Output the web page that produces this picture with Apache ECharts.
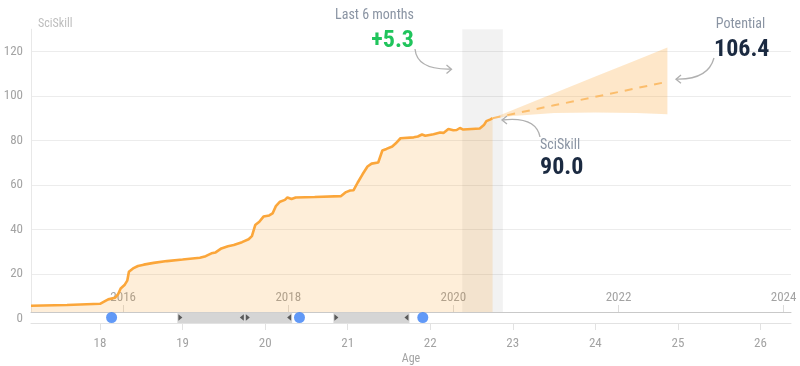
<!DOCTYPE html>
<html><head><meta charset="utf-8">
<script src="https://cdn.jsdelivr.net/npm/echarts@6/dist/echarts.min.js"></script>
<style>html,body{margin:0;padding:0;background:#fff}#c{width:800px;height:366px}</style>
</head><body><div id="c"></div>
<script>
// ---- data ----
const ages = [17.164,17.6,18.0,18.06,18.10,18.18,18.22,18.25,18.30,18.33,18.35,18.40,18.46,18.53,18.65,18.81,19.00,19.21,19.28,19.35,19.40,19.47,19.55,19.62,19.72,19.80,19.84,19.88,19.93,19.98,20.05,20.09,20.13,20.18,20.24,20.27,20.32,20.37,20.60,20.92,20.98,21.03,21.07,21.12,21.18,21.24,21.29,21.37,21.42,21.47,21.54,21.58,21.64,21.80,21.85,21.90,21.94,22.04,22.12,22.16,22.22,22.28,22.32,22.36,22.40,22.60,22.65,22.68,22.73,22.755];
const skill = [5.7,6.1,6.6,7.8,8.6,9.3,11.0,13.5,15.2,17.0,21.0,22.5,23.6,24.2,25.0,25.8,26.5,27.3,28.0,29.3,29.7,31.5,32.5,33.0,34.3,35.6,37.0,42.0,43.5,45.8,46.3,47.2,50.5,52.5,53.3,54.4,53.7,54.4,54.6,55.0,56.8,57.5,57.6,61.0,64.8,68.3,69.6,70.1,75.5,76.2,77.3,78.6,81.0,81.4,81.8,82.7,82.1,82.8,83.6,83.4,85.2,84.6,84.7,85.6,84.9,85.4,86.9,88.7,89.5,90.0];
const forecastAges  = [22.755,23.0,23.5,24.0,24.5,24.873];
const forecastMid   = [90.0,91.9,95.8,99.6,103.5,106.4];
const forecastUpper = [90.0,93.7,101.2,108.7,116.2,121.8];
const forecastLower = [90.0,91.0,92.3,92.6,92.3,91.8];
const recentWindow = [22.388, 22.88];
const periodStarts = [18.937, 19.754, 20.827];
const periodEnds   = [19.754, 20.327, 21.748];
const milestones   = [18.14, 20.416, 21.91];
const ageTicks  = [18,19,20,21,22,23,24,25,26];
const yearTicks = [2016,2018,2020,2022,2024];
const yearOffset = 1997.72;
const ageMin = 17.164, ageMax = 26.37;
const currentValue = '90.0', potentialValue = '106.4', recentGain = '+5.3';

const FONT = '"Liberation Sans Narrow", "Roboto Condensed", Roboto, sans-serif';
const ORANGE = '#fba63a';
const FILL = 'rgba(252,160,40,0.25)';
const LABEL = '#a3a3a3';
const NOTE = '#8a94a3';
const NAVY = '#1b2a41';

const chart = echarts.init(document.getElementById('c'), null, {renderer:'canvas'});
const mainData = ages.map((a,i)=>[a, skill[i]]);
const midData = forecastAges.map((a,i)=>[a, forecastMid[i]]);

const option = {
  animation:false,
  backgroundColor:'#fff',
  grid:[
    {left:31, right:9, top:29.2, bottom:47.5, outerBoundsMode:'none', containLabel:false},
    {left:31, right:9, top:312, height:11, z:10, show:true, backgroundColor:'#fff', borderWidth:0, outerBoundsMode:'none', containLabel:false}
  ],
  xAxis:[
    {type:'value', gridIndex:0, min:ageMin, max:ageMax, show:false},
    {type:'value', gridIndex:0, min:ageMin+yearOffset, max:ageMax+yearOffset, position:'bottom', offset:-6.5,
      axisLine:{show:false},
      axisTick:{show:true, inside:true, length:7, lineStyle:{color:'#dcdcdc'}, customValues:yearTicks},
      axisLabel:{inside:true, margin:8, color:LABEL, fontSize:13, fontFamily:FONT, customValues:yearTicks, formatter:v=>String(Math.round(v))},
      splitLine:{show:false}},
    {type:'value', gridIndex:1, min:ageMin, max:ageMax, position:'bottom', z:11,
      name:'Age', nameLocation:'middle', nameGap:30, nameTextStyle:{color:LABEL, fontSize:12, fontFamily:FONT},
      axisLine:{show:true, lineStyle:{color:'#e2e2e2', width:1}},
      axisTick:{show:true, length:7, lineStyle:{color:'#e2e2e2'}, customValues:ageTicks},
      axisLabel:{margin:14, color:LABEL, fontSize:13, fontFamily:FONT, customValues:ageTicks},
      splitLine:{show:false}},
    {type:'value', gridIndex:1, min:ageMin, max:ageMax, position:'top', z:11,
      axisLine:{show:true, lineStyle:{color:'#c9c9c9', width:1}},
      axisTick:{show:false}, axisLabel:{show:false}, splitLine:{show:false}}
  ],
  yAxis:[
    {type:'value', gridIndex:0, min:0, max:130, interval:20,
      name:'SciSkill', nameLocation:'end', nameGap:5,
      nameTextStyle:{color:'#bdbdbd', fontSize:12, fontFamily:FONT, align:'left', verticalAlign:'middle', padding:[0,0,0,7]},
      axisLine:{show:true, lineStyle:{color:'#e8e8e8'}},
      axisTick:{show:false},
      axisLabel:{color:LABEL, fontSize:13, fontFamily:FONT, margin:8, showMaxLabel:false},
      splitLine:{show:true, showMaxLine:false, lineStyle:{color:'#ececec'}}},
    {type:'value', gridIndex:1, min:0, max:1, show:false}
  ],
  series:[
    {type:'custom', xAxisIndex:0, yAxisIndex:0, z:1, silent:true,
      data:[[0]],
      renderItem:function(params, api){
        const pts = [];
        forecastAges.forEach((a,i)=>pts.push(api.coord([a, forecastUpper[i]])));
        for(let i=forecastAges.length-1;i>=0;i--) pts.push(api.coord([forecastAges[i], forecastLower[i]]));
        return {type:'polygon', shape:{points:pts}, style:{fill:FILL}};
      }},
    {type:'line', xAxisIndex:0, yAxisIndex:0, data:mainData, showSymbol:false, symbol:'none', z:3,
      lineStyle:{color:ORANGE, width:2.6}, areaStyle:{color:FILL},
      markArea:{silent:true, itemStyle:{color:'rgba(0,0,0,0.05)'}, data:[[{xAxis:recentWindow[0]},{xAxis:recentWindow[1]}]]}},
    {type:'line', xAxisIndex:0, yAxisIndex:0, data:midData, showSymbol:false, symbol:'none', z:3,
      lineStyle:{color:'#fbbd6c', width:2, type:[8,7]}},
    {type:'custom', xAxisIndex:2, yAxisIndex:1, z:12, silent:true,
      data:periodStarts.map((s,i)=>[s, periodEnds[i]]),
      encode:{x:[0,1]},
      renderItem:function(params, api){
        const s = api.coord([api.value(0), 0.5]);
        const e = api.coord([api.value(1), 0.5]);
        const cs = params.coordSys;
        const cy = s[1];
        return {type:'group', children:[
          {type:'rect', shape:{x:s[0], y:cs.y+0.5, width:e[0]-s[0], height:cs.height-0.5}, style:{fill:'#d5d5d5'}},
          {type:'polygon', shape:{points:[[s[0]+1,cy-3.2],[s[0]+5,cy],[s[0]+1,cy+3.2]]}, style:{fill:'#5a5a5a'}},
          {type:'polygon', shape:{points:[[e[0]-1,cy-3.2],[e[0]-5,cy],[e[0]-1,cy+3.2]]}, style:{fill:'#5a5a5a'}}
        ]};
      }},
    {type:'scatter', xAxisIndex:2, yAxisIndex:1, z:13, silent:true, symbolSize:11,
      itemStyle:{color:'#3a7ff5'}, data:milestones.map(m=>[m,0.5])}
  ],
  graphic:[
    {type:'text', x:374.5, y:15, z:20, style:{text:'Last 6 months', align:'center', verticalAlign:'middle', fill:NOTE, fontSize:14, fontFamily:FONT}},
    {type:'text', x:414, y:41, z:20, style:{text:recentGain, align:'right', verticalAlign:'middle', fill:'#20c45c', fontSize:24, fontWeight:'bold', fontFamily:FONT}},
    {type:'bezierCurve', z:20, shape:{x1:415,y1:49,cpx1:417,cpy1:70,x2:451,y2:69}, style:{stroke:'#b0b0b0', lineWidth:1.3, fill:null}},
    {type:'polyline', z:20, shape:{points:[[446.5,65],[451.5,69.2],[446.5,73.5]]}, style:{stroke:'#b0b0b0', lineWidth:1.3, fill:null}},
    {type:'text', x:740.5, y:24, z:20, style:{text:'Potential', align:'center', verticalAlign:'middle', fill:NOTE, fontSize:14, fontFamily:FONT}},
    {type:'text', x:714, y:50, z:20, style:{text:potentialValue, align:'left', verticalAlign:'middle', fill:NAVY, fontSize:24, fontWeight:'bold', fontFamily:FONT}},
    {type:'bezierCurve', z:20, shape:{x1:714,y1:58,cpx1:708,cpy1:80,x2:676,y2:79}, style:{stroke:'#b0b0b0', lineWidth:1.3, fill:null}},
    {type:'polyline', z:20, shape:{points:[[681,75],[676,79.2],[681,83.2]]}, style:{stroke:'#b0b0b0', lineWidth:1.3, fill:null}},
    {type:'text', x:540, y:145, z:20, style:{text:'SciSkill', align:'left', verticalAlign:'middle', fill:NOTE, fontSize:14, fontFamily:FONT}},
    {type:'text', x:540, y:168, z:20, style:{text:currentValue, align:'left', verticalAlign:'middle', fill:NAVY, fontSize:24, fontWeight:'bold', fontFamily:FONT}},
    {type:'bezierCurve', z:20, shape:{x1:540,y1:137,cpx1:536,cpy1:116,x2:502,y2:120}, style:{stroke:'#b0b0b0', lineWidth:1.3, fill:null}},
    {type:'polyline', z:20, shape:{points:[[507,116],[502,120],[507,124]]}, style:{stroke:'#b0b0b0', lineWidth:1.3, fill:null}}
  ]
};
chart.setOption(option);
</script></body></html>
